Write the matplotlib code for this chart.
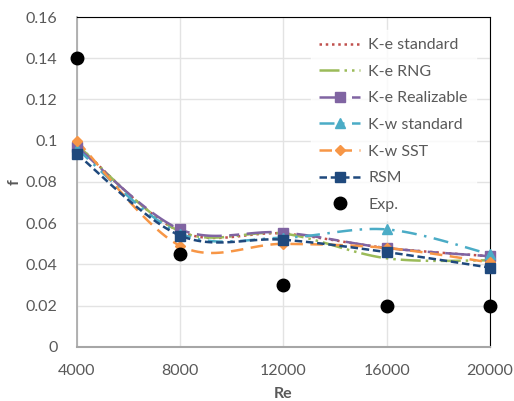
import numpy as np
import matplotlib
matplotlib.use("Agg")
import matplotlib.pyplot as plt
from matplotlib.lines import Line2D

plt.rcParams['font.family'] = ['Lato', 'DejaVu Sans']

re = [4000, 8000, 12000, 16000, 20000]
ke_standard = [0.098, 0.056, 0.055, 0.048, 0.044]
ke_rng = [0.098, 0.056, 0.055, 0.043, 0.042]
ke_realizable = [0.097, 0.057, 0.0555, 0.048, 0.044]
kw_standard = [0.096, 0.055, 0.053, 0.057, 0.045]
kw_sst = [0.100, 0.049, 0.050, 0.048, 0.041]
rsm = [0.0935, 0.054, 0.052, 0.046, 0.0385]
exp_f = [0.14, 0.045, 0.03, 0.02, 0.02]


def smooth(x, y, n=30):
    # Excel-like smoothed line (Catmull-Rom through the points)
    x = np.asarray(x, float)
    y = np.asarray(y, float)
    px = np.concatenate([[x[0]], x, [x[-1]]])
    py = np.concatenate([[y[0]], y, [y[-1]]])
    xs, ys = [], []
    for i in range(1, len(px) - 2):
        t = np.linspace(0, 1, n)
        p0, p1, p2, p3 = (px[i-1], py[i-1]), (px[i], py[i]), (px[i+1], py[i+1]), (px[i+2], py[i+2])
        c1 = (p1[0] + (p2[0] - p0[0]) / 6, p1[1] + (p2[1] - p0[1]) / 6)
        c2 = (p2[0] - (p3[0] - p1[0]) / 6, p2[1] - (p3[1] - p1[1]) / 6)
        b = lambda a0, a1, a2, a3: ((1-t)**3*a0 + 3*(1-t)**2*t*a1 + 3*(1-t)*t**2*a2 + t**3*a3)
        xs.append(b(p1[0], c1[0], c2[0], p2[0]))
        ys.append(b(p1[1], c1[1], c2[1], p2[1]))
    return np.concatenate(xs), np.concatenate(ys)


fig = plt.figure(figsize=(5.14, 4.01), dpi=100)
ax = fig.add_axes([0.1498, 0.1347, 0.8035, 0.8229])

series = [
    ('K-e standard', ke_standard, '#C0504D', (0, (1, 1.5)), None, 0),
    ('K-e RNG', ke_rng, '#9BBB59', (0, (8, 2, 1, 2, 1, 2)), None, 0),
    ('K-e Realizable', ke_realizable, '#8064A2', (0, (10, 3, 4, 3)), 's', 7),
    ('K-w standard', kw_standard, '#4BACC6', (0, (6, 3, 1, 3)), '^', 7),
    ('K-w SST', kw_sst, '#F79646', (0, (5, 3)), 'D', 5),
    ('RSM', rsm, '#1F497D', (0, (3, 1.5)), 's', 7),
]

handles = []
for name, vals, col, ls, mk, ms in series:
    sx, sy = smooth(re, vals)
    ax.plot(sx, sy, color=col, linestyle=ls, linewidth=1.8, zorder=3)
    if mk:
        ax.plot(re, vals, linestyle='none', marker=mk, markersize=ms, color=col, zorder=4, clip_on=False)
    handles.append(Line2D([], [], color=col, linestyle=ls, linewidth=1.8,
                          marker=mk if mk else None, markersize=ms))

ax.plot(re, exp_f, linestyle='none', marker='o', markersize=9, color='black', zorder=5, clip_on=False)
handles.append(Line2D([], [], linestyle='none', marker='o', markersize=9, color='black'))

ax.set_xlim(4000, 20000)
ax.set_ylim(0, 0.16)
ax.set_xticks(re)
ax.set_yticks([0, 0.02, 0.04, 0.06, 0.08, 0.1, 0.12, 0.14, 0.16])
ax.set_yticklabels(['0', '0.02', '0.04', '0.06', '0.08', '0.1', '0.12', '0.14', '0.16'])
ax.grid(True, color='#E3E3E3', linewidth=1)
ax.set_axisbelow(True)
ax.tick_params(length=0, labelsize=11.5, labelcolor='#595959')
ax.tick_params(axis='x', pad=12)
ax.tick_params(axis='y', pad=14)
ax.spines['left'].set_color('#A6A6A6')
ax.spines['bottom'].set_color('#A6A6A6')
ax.spines['left'].set_linewidth(1.2)
ax.spines['bottom'].set_linewidth(1.5)
ax.spines['top'].set_color('black')
ax.spines['right'].set_color('black')

ax.set_xlabel('Re', fontsize=11.5, fontweight='bold', color='#595959')
ax.set_ylabel('f', fontsize=11.5, fontweight='bold', color='#595959')
ax.xaxis.set_label_coords(0.5, -0.12)
ax.yaxis.set_label_coords(-0.135, 0.5)

leg = ax.legend(handles, [s[0] for s in series] + ['Exp.'], loc='upper right',
                bbox_to_anchor=(0.985, 0.985), frameon=True, fontsize=11.5,
                handlelength=2.6, handletextpad=0.5, labelspacing=0.78, borderpad=0.5)
leg.get_frame().set_facecolor('white')
leg.get_frame().set_edgecolor('white')
for t in leg.get_texts():
    t.set_color('#595959')

fig.savefig('out.png', dpi=100)
